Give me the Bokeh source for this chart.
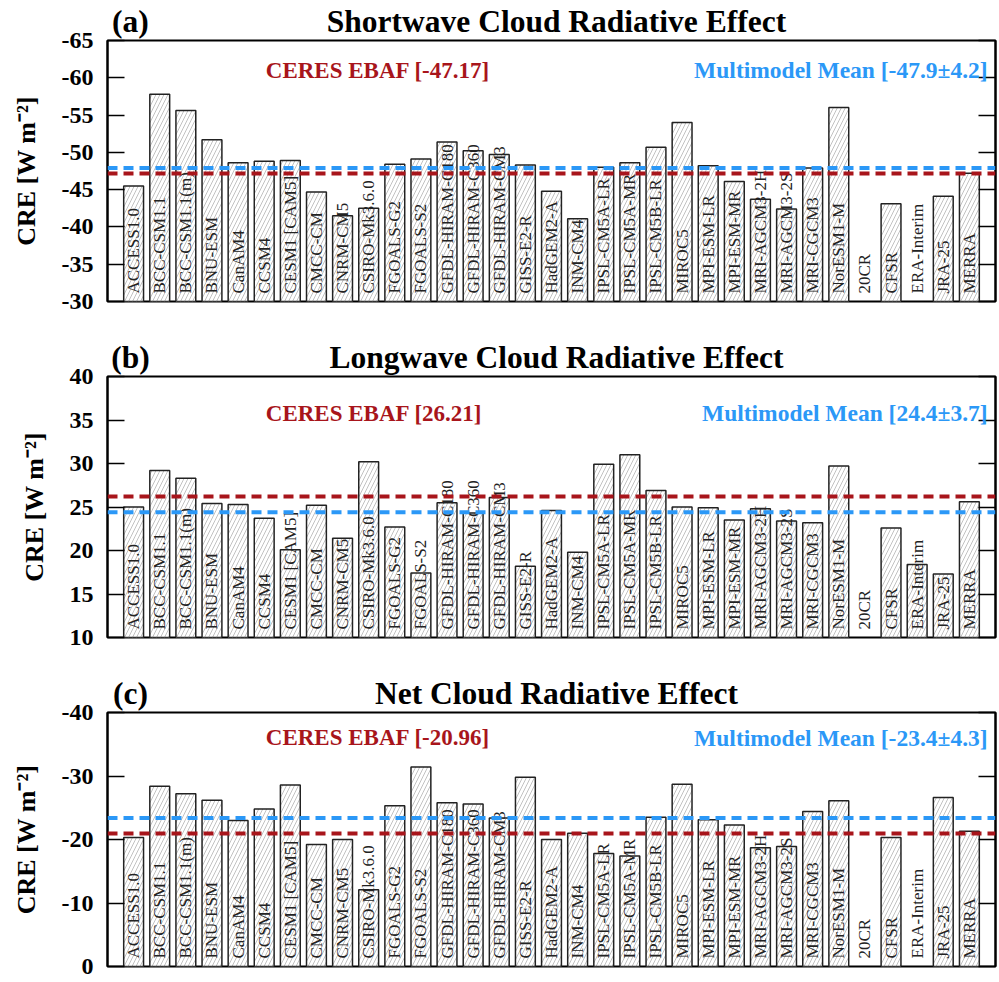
import math
from bokeh.plotting import figure
from bokeh.models import Range1d, FixedTicker, LinearAxis, Span, Label, ColumnDataSource
from bokeh.layouts import column
from bokeh.core.properties import value
from bokeh.embed import file_html
from bokeh.resources import INLINE

# ---------------- data ----------------
models = ["ACCESS1.0", "BCC-CSM1.1", "BCC-CSM1.1(m)", "BNU-ESM", "CanAM4", "CCSM4",
          "CESM1 [CAM5]", "CMCC-CM", "CNRM-CM5", "CSIRO-Mk3.6.0", "FGOALS-G2", "FGOALS-S2",
          "GFDL-HIRAM-C180", "GFDL-HIRAM-C360", "GFDL-HIRAM-CM3", "GISS-E2-R", "HadGEM2-A",
          "INM-CM4", "IPSL-CM5A-LR", "IPSL-CM5A-MR", "IPSL-CM5B-LR", "MIROC5", "MPI-ESM-LR",
          "MPI-ESM-MR", "MRI-AGCM3-2H", "MRI-AGCM3-2S", "MRI-CGCM3", "NorESM1-M",
          "20CR", "CFSR", "ERA-Interim", "JRA-25", "MERRA"]

sw_cre = [-45.5, -57.8, -55.6, -51.7, -48.6, -48.8, -48.9, -44.7, -41.5, -42.5, -48.4, -49.1,
          -51.4, -50.2, -49.7, -48.3, -44.8, -41.1, -48.0, -48.6, -50.7, -54.0, -48.2,
          -46.1, -43.7, -42.4, -47.9, -56.0, None, -43.1, None, -44.1, -47.2]

lw_cre = [25.0, 29.2, 28.3, 25.4, 25.3, 23.7, 20.1, 25.2, 21.4, 30.2, 22.7, 17.4,
          25.5, 24.3, 26.1, 18.2, 24.6, 19.8, 29.9, 31.0, 26.9, 25.0, 24.9,
          23.5, 24.8, 23.4, 23.2, 29.7, None, 22.6, 18.4, 17.3, 25.6]

net_cre = [-20.3, -28.4, -27.2, -26.2, -23.0, -24.8, -28.6, -19.2, -20.0, -12.1, -25.3, -31.4,
           -25.8, -25.6, -23.4, -29.8, -20.0, -21.0, -17.8, -17.4, -23.5, -28.7, -23.1,
           -22.3, -18.7, -18.9, -24.4, -26.1, None, -20.3, None, -26.6, -21.3]

panel_tags = ["(a)", "(b)", "(c)"]
panel_titles = ["Shortwave Cloud Radiative Effect", "Longwave Cloud Radiative Effect",
                "Net Cloud Radiative Effect"]
ceres_ebaf = [-47.17, 26.21, -20.96]
mmm_mean = [-47.9, 24.4, -23.4]
mmm_std = [4.2, 3.7, 4.3]
y_bottoms = [-30, 10, 0]
y_tops = [-65, 40, -40]
y_ticks = [[-65, -60, -55, -50, -45, -40, -35, -30],
           [10, 15, 20, 25, 30, 35, 40],
           [-40, -30, -20, -10, 0]]
note_y = [-61, 35.8, -36]
series = [sw_cre, lw_cre, net_cre]

# ---------------- style ----------------
SERIF = "Liberation Serif"
RED = "#a8151b"
BLUE = "#2b98f7"
W = 997
FRAME_L, FRAME_R = 107, 995
heights = [336, 336, 308]
tops = [39, 39, 39]
bottoms = [35, 35, 14]
TAG_X = -0.12      # header positions along the category axis
TITLE_X = 16.19

figs = []
for i in range(3):
    vals = [float("nan") if v is None else v for v in series[i]]
    xs = list(range(len(models)))
    src = ColumnDataSource(dict(x=xs, top=vals, name=models,
                                base=[y_bottoms[i]] * len(models)))
    p = figure(width=W, height=heights[i], output_backend="svg", toolbar_location=None,
               x_range=Range1d(-1, len(models)),
               y_range=Range1d(y_bottoms[i], y_tops[i]),
               min_border_left=FRAME_L, min_border_right=W - FRAME_R, min_border_top=tops[i],
               min_border_bottom=bottoms[i], title=None)
    p.xgrid.visible = False
    p.ygrid.visible = False
    p.below[0].visible = False
    p.outline_line_color = "black"
    p.outline_line_width = 2
    p.background_fill_color = "white"
    p.border_fill_color = "white"

    # header: panel tag and title written as labels of an axis above the frame
    head = LinearAxis(ticker=FixedTicker(ticks=[TAG_X, TITLE_X]),
                      major_label_overrides={TAG_X: panel_tags[i], TITLE_X: panel_titles[i]},
                      axis_line_color=None, major_tick_line_color=None,
                      minor_tick_line_color=None, major_tick_in=0, major_tick_out=0,
                      major_label_standoff=2, major_label_text_font=SERIF,
                      major_label_text_font_style="bold", major_label_text_font_size="31.5px",
                      major_label_text_color="black")
    p.add_layout(head, "above")

    ya = p.yaxis[0]
    ya.ticker = FixedTicker(ticks=y_ticks[i])
    ya.major_label_overrides = {t: str(t) for t in y_ticks[i]}
    ya.major_tick_in = 17
    ya.major_tick_out = 0
    ya.major_tick_line_width = 1.5
    ya.minor_tick_line_color = None
    ya.axis_line_width = 2
    ya.major_label_text_font = SERIF
    ya.major_label_text_font_style = "bold"
    ya.major_label_text_font_size = "24px"
    ya.major_label_text_color = "black"
    ya.major_label_standoff = 14
    ya.axis_label = "CRE [W m\u207b\u00b2]"
    ya.axis_label_text_font = SERIF
    ya.axis_label_text_font_style = "bold"
    ya.axis_label_text_font_size = "26px"
    ya.axis_label_text_color = "black"
    ya.axis_label_standoff = 18

    ra = LinearAxis(ticker=FixedTicker(ticks=y_ticks[i]), major_tick_in=17, major_tick_out=0,
                    major_tick_line_width=1.5, minor_tick_line_color=None, axis_line_width=2,
                    major_label_text_font_size="0px", major_label_text_color=None,
                    major_label_standoff=0)
    p.add_layout(ra, "right")

    p.vbar(x="x", top="top", bottom="base", width=0.76, source=src,
           fill_color="white", line_color="#222222", line_width=1.5,
           hatch_pattern="/", hatch_color="#c2c2c2", hatch_scale=8, hatch_weight=1)

    p.text(x="x", y="base", text="name", source=src, angle=math.pi / 2,
           text_align="left", text_baseline="middle", y_offset=-8,
           text_font=value(SERIF), text_font_size="17px", text_color="#222222")

    p.add_layout(Span(location=mmm_mean[i], dimension="width", line_color=BLUE,
                      line_width=4, line_dash="10 6"))
    p.add_layout(Span(location=ceres_ebaf[i], dimension="width", line_color=RED,
                      line_width=4, line_dash="10 6"))

    p.add_layout(Label(x=5.06, y=note_y[i], text="CERES EBAF [%.2f]" % ceres_ebaf[i],
                       text_align="left", text_baseline="middle", text_font=SERIF,
                       text_font_style="bold", text_font_size="23px", text_color=RED))
    p.add_layout(Label(x=32.7, y=note_y[i],
                       text="Multimodel Mean [%.1f\u00b1%.1f]" % (mmm_mean[i], mmm_std[i]),
                       text_align="right", text_baseline="middle", text_font=SERIF,
                       text_font_style="bold", text_font_size="23.5px", text_color=BLUE))
    figs.append(p)

layout = column(*figs, spacing=0)
open("out.html", "w").write(file_html(layout, INLINE))
